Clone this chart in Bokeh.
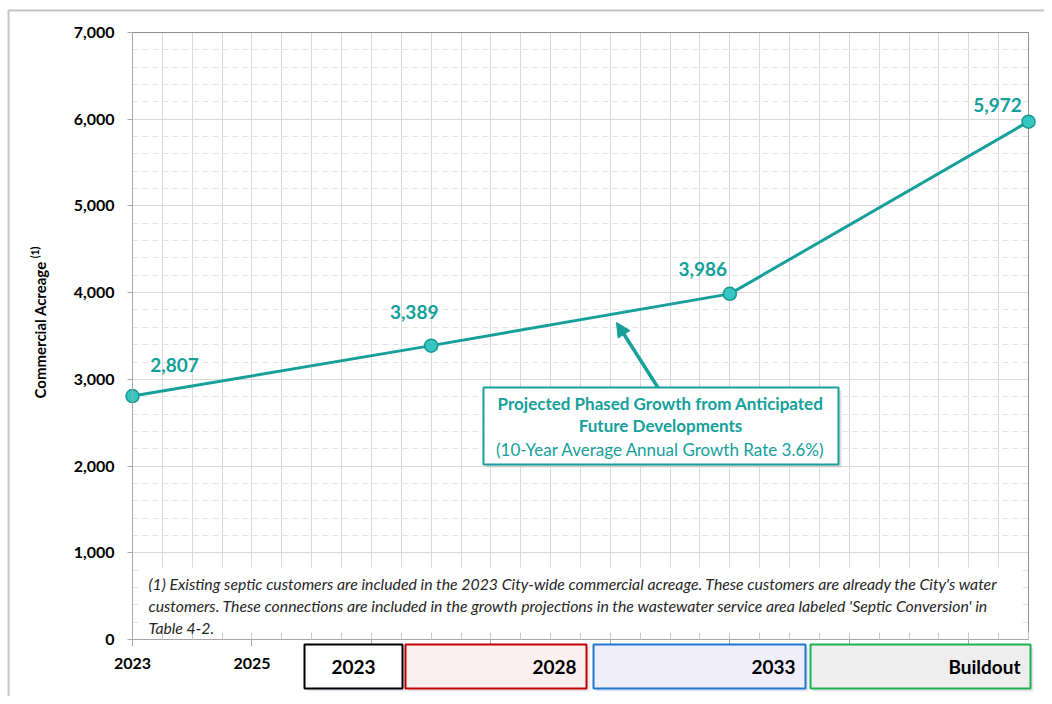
import math
from bokeh.plotting import figure
from bokeh.models import (Range1d, FixedTicker, Label, BoxAnnotation, Arrow,
                          NormalHead, ColumnDataSource)
from bokeh.embed import file_html
from bokeh.resources import INLINE

# ---------------- data ----------------
phases = ["2023", "2028", "2033", "Buildout"]
years = [2023, 2028, 2033, 2038]
acreage = [2807, 3389, 3986, 5972]
x_major_ticks = [2023, 2025, 2027, 2029, 2031, 2033, 2035, 2037]
x_shown_labels = {2023: "2023", 2025: "2025"}
y_major_ticks = [0, 1000, 2000, 3000, 4000, 5000, 6000, 7000]
y_title = "Commercial Acreage"
y_title_note = "(1)"
callout_lines = ["Projected Phased Growth from Anticipated",
                 "Future Developments",
                 "(10-Year Average Annual Growth Rate 3.6%)"]
footnote_lines = [
    "(1) Existing septic customers are included in the 2023 City-wide commercial acreage. These customers are already the City's water",
    "customers. These connections are included in the growth projections in the wastewater service area labeled 'Septic Conversion' in",
    "Table 4-2.",
]

# ---------------- layout helpers ----------------
W, H = 1044, 696
FL, FR, FT, FB = 132, 1028, 32, 639          # plot-area edges in page pixels
X0, X1, Y0, Y1 = 2023, 2038, 0, 7000


def dx(px):
    return X0 + (px - FL) * (X1 - X0) / (FR - FL)


def dy(py):
    return Y1 * (FB - py) / (FB - FT)


FONT = "Lato"
TEAL = "#17a099"
TEAL_TXT = "#13a09a"

p = figure(width=W, height=H, x_range=Range1d(dx(0), dx(W)), y_range=Range1d(dy(H), dy(0)),
           output_backend="svg", toolbar_location=None, min_border=0)
p.background_fill_color = "white"
p.border_fill_color = "white"
p.outline_line_color = None

# plot-area outline (beneath the series)
p.add_layout(BoxAnnotation(left=X0, right=X1, bottom=Y0, top=Y1, fill_alpha=0,
                           line_color="#8f8f8f", line_alpha=1, line_width=1, level="underlay"))

# axes, placed at the plot-area edges
p.xaxis.fixed_location = Y0
p.xaxis.bounds = (X0, X1)
p.xaxis.ticker = FixedTicker(ticks=x_major_ticks,
                             minor_ticks=[X0 + 0.5 * i for i in range(int((X1 - X0) * 2) + 1)])
p.xaxis.major_label_overrides = {t: x_shown_labels.get(t, "") for t in x_major_ticks}
p.xaxis.axis_line_color = "#a6a6a6"
p.xaxis.major_tick_line_color = "#a6a6a6"
p.xaxis.minor_tick_line_color = "#c8c8c8"
p.xaxis.major_tick_in = 7
p.xaxis.major_tick_out = 7
p.xaxis.minor_tick_in = 7
p.xaxis.minor_tick_out = 0
p.xaxis.major_label_text_font = FONT
p.xaxis.major_label_text_font_style = "bold"
p.xaxis.major_label_text_font_size = "16px"
p.xaxis.major_label_text_color = "black"
p.xaxis.major_label_standoff = 11

p.yaxis.fixed_location = X0
p.yaxis.bounds = (Y0, Y1)
p.yaxis.ticker = FixedTicker(ticks=y_major_ticks,
                             minor_ticks=list(range(0, 7001, 200)))
p.yaxis.major_label_overrides = {t: f"{t:,}" for t in y_major_ticks}
p.yaxis.axis_line_color = "#a6a6a6"
p.yaxis.major_tick_line_color = "#a6a6a6"
p.yaxis.minor_tick_line_color = None
p.yaxis.major_tick_in = 0
p.yaxis.major_tick_out = 5
p.yaxis.major_label_text_font = FONT
p.yaxis.major_label_text_font_style = "bold"
p.yaxis.major_label_text_font_size = "16px"
p.yaxis.major_label_text_color = "black"
p.yaxis.major_label_standoff = 13

# grids, limited to the plot area
p.xgrid.cross_bounds = (Y0, Y1)
p.ygrid.cross_bounds = (X0, X1)
p.xgrid.grid_line_color = "#d9d9d9"
p.xgrid.minor_grid_line_color = "#d9d9d9"
p.ygrid.grid_line_color = "#d9d9d9"
p.ygrid.minor_grid_line_color = "#e3e3e3"
p.ygrid.minor_grid_line_dash = "6 4"

# outer chart border
p.add_layout(BoxAnnotation(left=dx(8), right=dx(W + 40), top=dy(10), bottom=dy(H + 40),
                           fill_alpha=0, line_color="#c4c4c4", line_alpha=1, line_width=2))

# footnote white background
p.add_layout(BoxAnnotation(left=dx(139), right=dx(1022), top=dy(567), bottom=dy(632),
                           fill_color="white", fill_alpha=1, line_alpha=0))
for i, line in enumerate(footnote_lines):
    p.add_layout(Label(x=dx(148), y=dy(583 + 22 * i), text=line,
                       text_font=FONT, text_font_style="italic", text_font_size="15.8px",
                       text_color="#262626", text_align="left", text_baseline="middle"))

# series
src = ColumnDataSource(dict(x=years, y=acreage))
p.line("x", "y", source=src, line_color=TEAL, line_width=3)
p.scatter("x", "y", source=src, size=13, fill_color="#35c6c1",
          line_color="#15968f", line_width=1.5)

label_dx = [42, -17, -27, -31]
label_dy = [31, 34, 25, 17]
for xv, yv, ox, oy in zip(years, acreage, label_dx, label_dy):
    p.add_layout(Label(x=xv, y=yv, x_offset=ox, y_offset=oy, text=f"{yv:,}",
                       text_font=FONT, text_font_style="bold", text_font_size="19px",
                       text_color=TEAL_TXT, text_align="center", text_baseline="middle"))

# callout
p.add_layout(Arrow(end=NormalHead(size=14, fill_color=TEAL, line_color=TEAL),
                   x_start=dx(658), y_start=dy(388), x_end=dx(616), y_end=dy(322),
                   line_color=TEAL, line_width=3.5))
p.add_layout(BoxAnnotation(left=dx(486), right=dx(841), top=dy(390), bottom=dy(467),
                           fill_color="#bfbfbf", fill_alpha=0.5, line_alpha=0))
p.add_layout(BoxAnnotation(left=dx(483), right=dx(838), top=dy(387), bottom=dy(464),
                           fill_color="white", fill_alpha=1, line_color=TEAL,
                           line_alpha=1, line_width=2))
for i, (line, yy) in enumerate(zip(callout_lines, [403, 425, 449])):
    p.add_layout(Label(x=dx(660), y=dy(yy), text=line, text_font=FONT,
                       text_font_style="bold" if i < 2 else "normal",
                       text_font_size="17px", text_color=TEAL_TXT,
                       text_align="center", text_baseline="middle"))

# y axis title
p.add_layout(Label(x=dx(39), y=dy(398), text=y_title, angle=math.pi / 2,
                   text_font=FONT, text_font_style="bold", text_font_size="15px",
                   text_color="black", text_align="left", text_baseline="middle"))
p.add_layout(Label(x=dx(34), y=dy(246), text=y_title_note, angle=math.pi / 2,
                   text_font=FONT, text_font_style="bold", text_font_size="10.5px",
                   text_color="black", text_align="right", text_baseline="middle"))

# phase boxes below the axis
box_px = [(304, 402), (405, 586), (593, 805), (810, 1030)]
box_line = ["#000000", "#c00000", "#1f77d0", "#1eb04f"]
box_fill = ["#ffffff", "#fbeff0", "#efeefa", "#eeeeee"]
for name, (l, r), lc, fc in zip(phases, box_px, box_line, box_fill):
    p.add_layout(BoxAnnotation(left=dx(l + 3), right=dx(r + 3), top=dy(647), bottom=dy(691),
                               fill_color="#d8d4e8", fill_alpha=0.6, line_alpha=0))
    p.add_layout(BoxAnnotation(left=dx(l), right=dx(r), top=dy(644), bottom=dy(688),
                               fill_color=fc, fill_alpha=1, line_color=lc,
                               line_alpha=1, line_width=2))
    if name == phases[0]:
        p.add_layout(Label(x=dx((l + r) / 2), y=dy(666), text=name, text_font=FONT,
                           text_font_style="bold", text_font_size="19px", text_color="black",
                           text_align="center", text_baseline="middle"))
    else:
        p.add_layout(Label(x=dx(r - 10), y=dy(666), text=name, text_font=FONT,
                           text_font_style="bold", text_font_size="19px", text_color="black",
                           text_align="right", text_baseline="middle"))

open("out.html", "w").write(file_html(p, INLINE))
